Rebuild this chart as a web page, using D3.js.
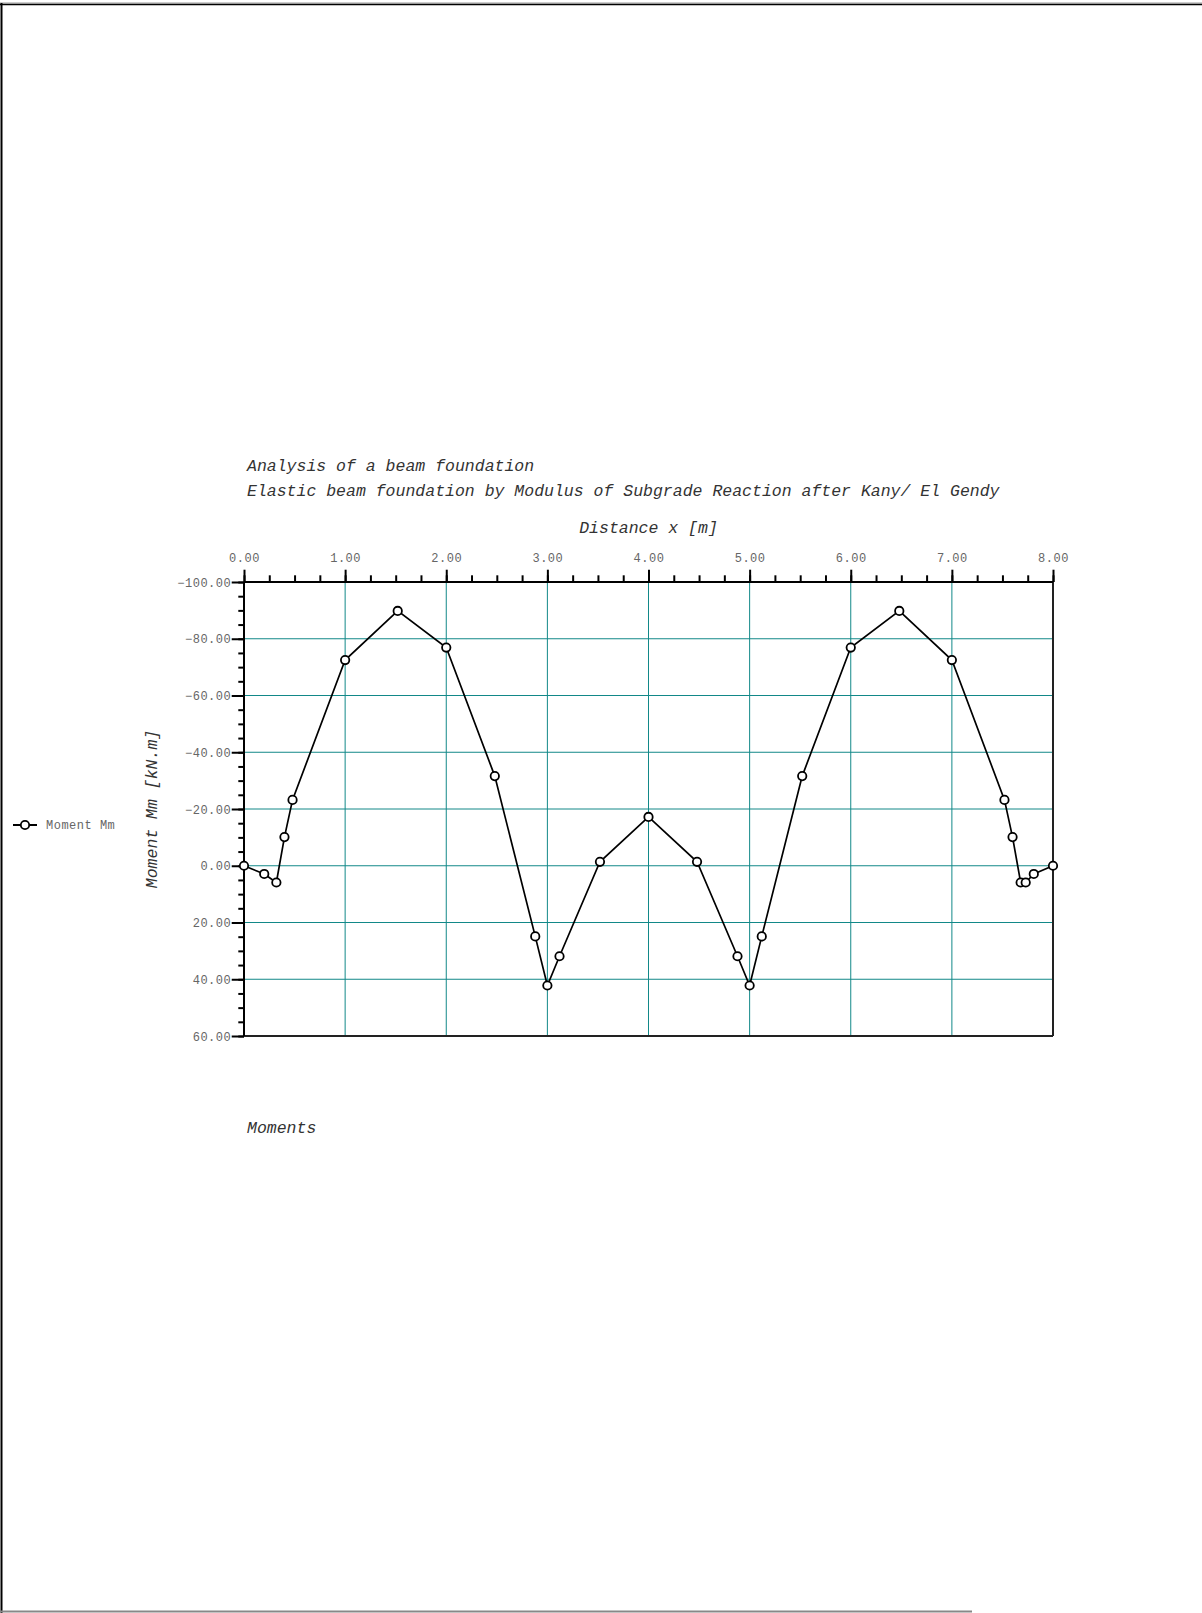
<!DOCTYPE html>
<html>
<head>
<meta charset="utf-8">
<script src="https://cdn.jsdelivr.net/npm/d3@7"></script>
<style>
  html, body { margin: 0; padding: 0; background: #fff; }
  svg { display: block; }
  .mono { font-family: "Liberation Mono", "Courier New", monospace; }
</style>
</head>
<body>
<svg id="chart" width="1202" height="1613"></svg>
<script>
// Beam foundation moment diagram: distance along the beam vs bending moment
const distance = [0, 0.20, 0.32, 0.40, 0.48, 1.00, 1.52, 2.00, 2.48, 2.88, 3.00, 3.12, 3.52, 4.00,
                  4.48, 4.88, 5.00, 5.12, 5.52, 6.00, 6.48, 7.00, 7.52, 7.60, 7.68, 7.73, 7.81, 8.00];
const moment = [0, 2.9, 5.9, -10.1, -23.2, -72.5, -89.8, -76.9, -31.6, 24.9, 42.2, 31.9, -1.4, -17.2,
                -1.4, 31.9, 42.2, 24.9, -31.6, -76.9, -89.8, -72.5, -23.2, -10.1, 5.9, 5.9, 2.9, 0];

const xMajorTicks = [0, 1, 2, 3, 4, 5, 6, 7, 8];
const yMajorTicks = [-100, -80, -60, -40, -20, 0, 20, 40, 60];

const titleLines = ["Analysis of a beam foundation",
                    "Elastic beam foundation by Modulus of Subgrade Reaction after Kany/ El Gendy"];
const xTitle = "Distance x [m]";
const yTitle = "Moment Mm [kN.m]";
const seriesName = "Moment Mm";
const footer = "Moments";

const svg = d3.select("#chart");
const plot = { left: 244, right: 1053, top: 582, bottom: 1036 };

const x = d3.scaleLinear().domain([0, 8]).range([plot.left, plot.right]);
const y = d3.scaleLinear().domain([-100, 60]).range([plot.top, plot.bottom]);

const fmt = d3.format(".2f");
const tickColor = "#666";
const textColor = "#333";
const gridColor = "#128888";

// page frame
svg.append("line").attr("x1", 0).attr("x2", 1202).attr("y1", 3).attr("y2", 3)
  .attr("stroke", "#999").attr("stroke-width", 1);
svg.append("line").attr("x1", 0).attr("x2", 1202).attr("y1", 4.5).attr("y2", 4.5)
  .attr("stroke", "#000").attr("stroke-width", 1.5);
svg.append("line").attr("x1", 1.5).attr("x2", 1.5).attr("y1", 3).attr("y2", 1613)
  .attr("stroke", "#000").attr("stroke-width", 2);
svg.append("line").attr("x1", 0).attr("x2", 972).attr("y1", 1611.5).attr("y2", 1611.5)
  .attr("stroke", "#888").attr("stroke-width", 2);

// titles
svg.selectAll("text.title").data(titleLines).join("text")
  .attr("class", "title mono")
  .attr("x", 247).attr("y", (d, i) => 465 + i * 25).attr("dy", "0.35em")
  .attr("font-size", 16.5).attr("font-style", "italic").attr("fill", textColor)
  .text(d => d);

svg.append("text").attr("class", "mono")
  .attr("x", (plot.left + plot.right) / 2).attr("y", 527).attr("dy", "0.35em")
  .attr("text-anchor", "middle").attr("font-size", 16.5).attr("font-style", "italic")
  .attr("fill", textColor).text(xTitle);

svg.append("text").attr("class", "mono")
  .attr("transform", `translate(151,${(plot.top + plot.bottom) / 2}) rotate(-90)`)
  .attr("dy", "0.35em").attr("text-anchor", "middle").attr("font-size", 16.5)
  .attr("font-style", "italic").attr("fill", textColor).text(yTitle);

svg.append("text").attr("class", "mono")
  .attr("x", 247).attr("y", 1127).attr("dy", "0.35em")
  .attr("font-size", 16.5).attr("font-style", "italic").attr("fill", textColor).text(footer);

// grid
const grid = svg.append("g");
grid.selectAll("line.v").data(xMajorTicks.slice(1, -1)).join("line")
  .attr("x1", d => x(d)).attr("x2", d => x(d)).attr("y1", plot.top).attr("y2", plot.bottom)
  .attr("stroke", gridColor).attr("stroke-width", 1);
grid.selectAll("line.h").data(yMajorTicks.slice(1, -1)).join("line")
  .attr("x1", plot.left).attr("x2", plot.right).attr("y1", d => y(d)).attr("y2", d => y(d))
  .attr("stroke", gridColor).attr("stroke-width", 1);

// frame of plot area (right and bottom)
svg.append("line").attr("x1", plot.right).attr("x2", plot.right).attr("y1", plot.top).attr("y2", plot.bottom)
  .attr("stroke", "#222").attr("stroke-width", 2);
svg.append("line").attr("x1", plot.left).attr("x2", plot.right).attr("y1", plot.bottom).attr("y2", plot.bottom)
  .attr("stroke", "#222").attr("stroke-width", 2);

// x axis on top: minor ticks every 0.25 m, major every 1 m
const xMinor = svg.append("g").attr("transform", `translate(0,${plot.top})`)
  .call(d3.axisTop(x).tickValues(d3.range(0, 8.001, 0.25)).tickSize(6.7).tickFormat(""));
const xMajor = svg.append("g").attr("transform", `translate(0,${plot.top})`)
  .call(d3.axisTop(x).tickValues(xMajorTicks).tickSize(12.3).tickFormat(fmt));
[xMinor, xMajor].forEach(g => {
  g.select(".domain").attr("stroke", "#000").attr("stroke-width", 2).attr("d", `M${plot.left},0H${plot.right}`);
  g.selectAll(".tick line").attr("stroke", "#000").attr("stroke-width", 2);
});
xMajor.selectAll(".tick text")
  .attr("class", "mono").attr("y", -24).attr("dy", "0.35em")
  .attr("font-size", 12).attr("letter-spacing", 0.5).attr("fill", tickColor);

// y axis on the left: minor ticks every 5, major every 20
const yMinor = svg.append("g").attr("transform", `translate(${plot.left},0)`)
  .call(d3.axisLeft(y).tickValues(d3.range(-100, 60.001, 5)).tickSize(5.7).tickFormat(""));
const yMajor = svg.append("g").attr("transform", `translate(${plot.left},0)`)
  .call(d3.axisLeft(y).tickValues(yMajorTicks).tickSize(12.3).tickFormat(fmt));
[yMinor, yMajor].forEach(g => {
  g.select(".domain").attr("stroke", "#000").attr("stroke-width", 2).attr("d", `M0,${plot.top}V${plot.bottom}`);
  g.selectAll(".tick line").attr("stroke", "#000").attr("stroke-width", 2);
});
yMajor.selectAll(".tick text")
  .attr("class", "mono").attr("x", -12.8).attr("dy", "0.35em")
  .attr("font-size", 12).attr("letter-spacing", 0.5).attr("fill", tickColor);

// moment line with circle markers
const pts = distance.map((d, i) => [d, moment[i]]);
svg.append("path").datum(pts)
  .attr("fill", "none").attr("stroke", "#000").attr("stroke-width", 1.7)
  .attr("d", d3.line().x(d => x(d[0])).y(d => y(d[1])));
svg.append("g").selectAll("circle").data(pts).join("circle")
  .attr("cx", d => x(d[0])).attr("cy", d => y(d[1])).attr("r", 4.2)
  .attr("fill", "#fff").attr("stroke", "#000").attr("stroke-width", 1.8);

// legend
const lg = svg.append("g").attr("transform", "translate(0,825)");
lg.append("line").attr("x1", 13).attr("x2", 37).attr("y1", 0).attr("y2", 0)
  .attr("stroke", "#000").attr("stroke-width", 2);
lg.append("circle").attr("cx", 25).attr("cy", 0).attr("r", 4.2)
  .attr("fill", "#fff").attr("stroke", "#000").attr("stroke-width", 1.8);
lg.append("text").attr("class", "mono").attr("x", 46).attr("y", 0).attr("dy", "0.35em")
  .attr("font-size", 12).attr("letter-spacing", 0.5).attr("fill", tickColor).text(seriesName);
</script>
</body>
</html>
